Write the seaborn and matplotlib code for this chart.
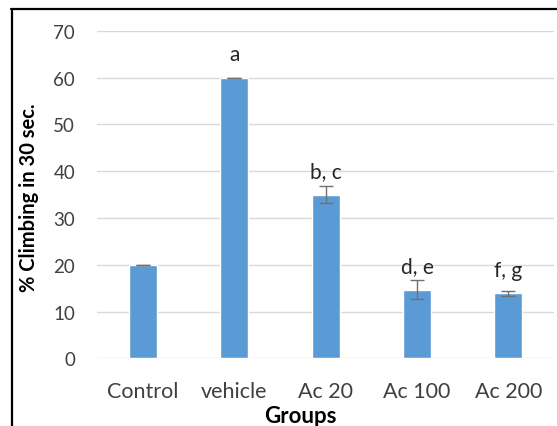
import matplotlib
matplotlib.use("Agg")
import matplotlib.pyplot as plt
import seaborn as sns
import pandas as pd

groups = ["Control", "vehicle", "Ac 20", "Ac 100", "Ac 200"]
values = [20, 60, 35, 14.7, 13.9]
errors = [0, 0, 1.8, 2.1, 0.5]
letters = ["", "a", "b, c", "d, e", "f, g"]
yticks = [0, 10, 20, 30, 40, 50, 60, 70]

sns.set_style("white")
plt.rcParams["font.family"] = ["Lato", "DejaVu Sans"]

df = pd.DataFrame({"group": groups, "value": values})

fig = plt.figure(figsize=(5.57, 4.27), dpi=100)
ax = fig.add_axes([97.3 / 557, 1 - 359.3 / 427, (554 - 97.3) / 557, (359.3 - 31.7) / 427])

sns.barplot(data=df, x="group", y="value", color="#5B9BD5", saturation=1,
            width=0.305, ax=ax, zorder=3)
ax.errorbar(x=groups, y=values, yerr=errors, fmt="none", ecolor="#707070",
            elinewidth=1.0, capsize=5.3, capthick=1.0, zorder=4)

for g, v, lab in zip(groups, values, letters):
    if lab:
        ax.annotate(lab, xy=(g, v), xytext=(0, 12.7), textcoords="offset points",
                    ha="center", va="baseline", fontsize=15, color="#262626")

ax.set_ylim(0, 70)
ax.set_xlim(-0.5, 4.5)
ax.set_yticks(yticks)
ax.yaxis.grid(True, color="#D9D9D9", linewidth=1.0, zorder=0)
ax.set_axisbelow(True)
for s in ax.spines.values():
    s.set_visible(False)
ax.tick_params(axis="both", length=0, labelcolor="#404040")
ax.tick_params(axis="y", labelsize=13.5, pad=16)
ax.tick_params(axis="x", labelsize=15.5, pad=16)

ax.set_xlabel("")
ax.set_ylabel("")
fig.text(300 / 557, 1 - 417 / 427, "Groups", ha="center", va="center",
         fontsize=16, fontweight="bold", color="black")
fig.text(29 / 557, 1 - 197.5 / 427, "% Climbing in 30 sec.", ha="center", va="center",
         rotation=90, fontsize=14.5, fontweight="bold", color="black")

# outer black frame (partially cropped)
fig.add_artist(plt.Line2D([12 / 557, 12 / 557], [0, 1 - 10 / 427], transform=fig.transFigure,
                          color="black", linewidth=1.6))
fig.add_artist(plt.Line2D([11.4 / 557, 1], [1 - 10 / 427, 1 - 10 / 427], transform=fig.transFigure,
                          color="black", linewidth=1.6))

fig.savefig("out.png", dpi=100)
